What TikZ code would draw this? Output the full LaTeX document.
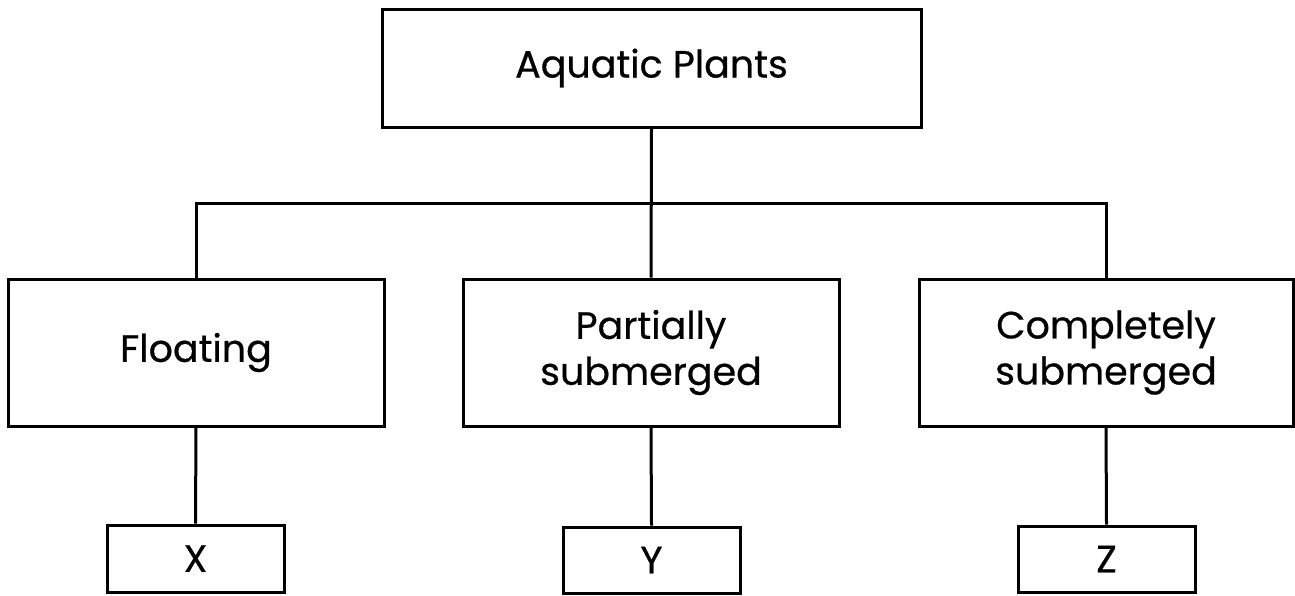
\documentclass[tikz,border=0pt]{standalone}
\usepackage{fontspec}
\setmainfont{Poppins}[BoldFont=Poppins, BoldFeatures={FakeBold=0.6}]
\begin{document}
\begin{tikzpicture}[x=1pt,y=-1pt,
  box/.style={draw=black,line width=3pt,inner sep=0pt,align=center,
    font=\fontsize{38}{46}\selectfont\bfseries},
  conn/.style={draw=black,line width=3pt}]
\useasboundingbox (0,0) rectangle (1295,595);
\node[box,minimum width=539pt,minimum height=118pt] (top) at (651.5,68) {Aquatic Plants};
\node[box,minimum width=376pt,minimum height=147pt] (float) at (196,352.5) {Floating};
\node[box,minimum width=376pt,minimum height=147pt] (part) at (651,352.5) {Partially\\submerged};
\node[box,minimum width=374pt,minimum height=147pt] (comp) at (1106,352.5) {Completely\\submerged};
\node[box,minimum width=177pt,minimum height=67pt] (x) at (195.5,558.5) {X};
\node[box,minimum width=177pt,minimum height=66pt] (y) at (651.5,560) {Y};
\node[box,minimum width=177pt,minimum height=66pt] (z) at (1106.5,559) {Z};
\coordinate (bar) at (651,203);
\draw[conn] (top.south) -- (part.north);
\draw[conn] (float.north) -- (float.north |- bar) -- (comp.north |- bar) -- (comp.north);
\draw[conn] (float.south) -- (x.north);
\draw[conn] (part.south) -- (y.north);
\draw[conn] (comp.south) -- (z.north);
\end{tikzpicture}
\end{document}
